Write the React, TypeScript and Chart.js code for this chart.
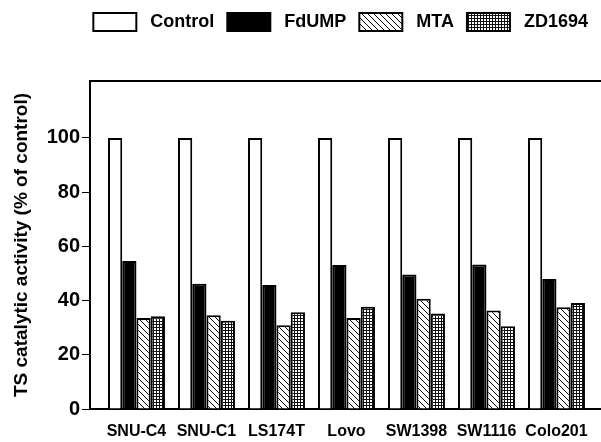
import React, { useEffect, useRef } from "react";
import { Chart, registerables } from "chart.js";

Chart.register(...registerables);

const categories = ["SNU-C4", "SNU-C1", "LS174T", "Lovo", "SW1398", "SW1116", "Colo201"];
const controlValues = [100, 100, 100, 100, 100, 100, 100];
const fdumpValues = [54.6, 46.2, 45.7, 53.1, 49.6, 53.3, 48.0];
const mtaValues = [33.6, 34.6, 30.9, 33.6, 40.7, 36.3, 37.5];
const zdValues = [34.2, 32.6, 35.7, 37.7, 35.2, 30.5, 39.1];
const seriesNames = ["Control", "FdUMP", "MTA", "ZD1694"];
const yTickValues = [0, 20, 40, 60, 80, 100];

const FONT = "'Liberation Sans', Arial, Helvetica, sans-serif";

function makeHatch(): CanvasPattern | string {
  const c = document.createElement("canvas");
  c.width = 6;
  c.height = 6;
  const g = c.getContext("2d");
  if (!g) return "#fff";
  g.fillStyle = "#fff";
  g.fillRect(0, 0, 6, 6);
  g.strokeStyle = "#000";
  g.lineWidth = 1;
  g.beginPath();
  g.moveTo(-1, -1);
  g.lineTo(7, 7);
  g.moveTo(-4, 2);
  g.lineTo(2, 8);
  g.moveTo(2, -4);
  g.lineTo(8, 2);
  g.stroke();
  return g.createPattern(c, "repeat") || "#fff";
}

function makeGrid(): CanvasPattern | string {
  const c = document.createElement("canvas");
  c.width = 3;
  c.height = 3;
  const g = c.getContext("2d");
  if (!g) return "#888";
  g.fillStyle = "#fff";
  g.fillRect(0, 0, 3, 3);
  g.fillStyle = "#111";
  g.fillRect(0, 0, 3, 1);
  g.fillRect(0, 0, 1, 3);
  return g.createPattern(c, "repeat") || "#888";
}

export default function App() {
  const ref = useRef<HTMLCanvasElement | null>(null);

  useEffect(() => {
    document.body.style.margin = "0";
    const canvas = ref.current;
    if (!canvas) return;
    Chart.defaults.color = "#000";
    const xMin = -0.664;
    const xMax = 6.636;
    const toPts = (arr: number[]) => arr.map((v, i) => ({ x: i, y: v }));
    const fills = ["#ffffff", "#000000", makeHatch(), makeGrid()];
    const values = [controlValues, fdumpValues, mtaValues, zdValues];

    const chart = new Chart(canvas, {
      type: "bar",
      data: {
        datasets: seriesNames.map((name, k) => ({
          label: name,
          data: toPts(values[k]),
          backgroundColor: fills[k] as any,
          borderColor: "#000",
          borderWidth: 2,
          xAxisID: "x",
          yAxisID: "y",
          categoryPercentage: 0.814,
          barPercentage: 1,
        })),
      },
      options: {
        animation: false,
        responsive: true,
        maintainAspectRatio: false,
        layout: { padding: 0 },
        plugins: {
          tooltip: { enabled: false },
          legend: {
            display: true,
            position: "top",
            align: "end",
            labels: {
              boxWidth: 43,
              boxHeight: 18,
              padding: 13,
              color: "#000",
              font: { family: FONT, size: 18, weight: "bold" },
              generateLabels: (ch: any) =>
                Chart.defaults.plugins.legend.labels
                  .generateLabels(ch)
                  .map((l: any) => ({ ...l, text: " " + l.text })),
            },
          },
        },
        scales: {
          x: {
            type: "linear",
            position: "bottom",
            min: xMin,
            max: xMax,
            offset: false,
            grid: { display: false, drawTicks: false },
            border: { display: true, color: "#000", width: 2 },
            afterBuildTicks: (s: any) => {
              s.ticks = categories.map((_, i) => ({ value: i }));
            },
            afterFit: (s: any) => {
              s.height = 33;
            },
            ticks: {
              autoSkip: false,
              maxRotation: 0,
              padding: 13,
              color: "#000",
              font: { family: FONT, size: 16, weight: "bold" },
              callback: (v: any) => categories[Math.round(Number(v))] ?? "",
            },
          },
          xTop: {
            type: "linear",
            position: "top",
            min: xMin,
            max: xMax,
            grid: { display: false, drawTicks: false },
            border: { display: true, color: "#000", width: 2 },
            ticks: { display: false },
            afterFit: (s: any) => {
              s.height = 40;
            },
          },
          y: {
            type: "linear",
            position: "left",
            min: 0,
            max: 121,
            afterBuildTicks: (s: any) => {
              s.ticks = yTickValues.map((v) => ({ value: v }));
            },
            afterFit: (s: any) => {
              s.width = 90;
            },
            grid: {
              drawOnChartArea: false,
              drawTicks: true,
              tickLength: 8,
              tickColor: "#000",
              tickWidth: 1,
            },
            border: { display: true, color: "#000", width: 2 },
            ticks: {
              padding: 2,
              color: "#000",
              font: { family: FONT, size: 20, weight: "bold" },
            },
            title: {
              display: true,
              text: "TS catalytic activity (% of control)",
              color: "#000",
              font: { family: FONT, size: 19, weight: "bold" },
              padding: { top: 10, bottom: 0 },
            },
          },
        },
      } as any,
    });
    return () => chart.destroy();
  }, []);

  return (
    <div style={{ position: "relative", width: 601, height: 442 }}>
      <canvas ref={ref} />
    </div>
  );
}
